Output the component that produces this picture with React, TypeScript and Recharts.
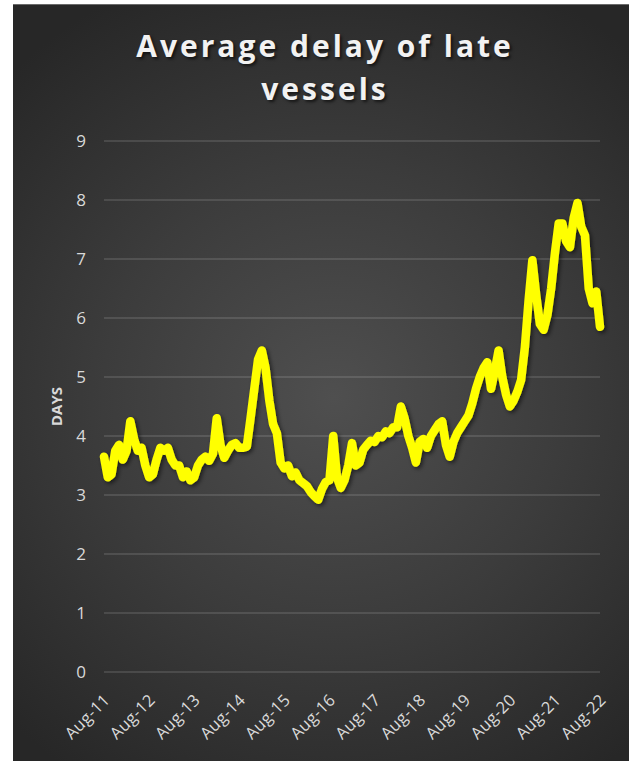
import { CartesianGrid, Line, LineChart, XAxis, YAxis } from "recharts";

const MONTHS = ["Jan", "Feb", "Mar", "Apr", "May", "Jun", "Jul", "Aug", "Sep", "Oct", "Nov", "Dec"];

// average delay (days), one array per year
const delay2011 = [3.65, 3.3, 3.35, 3.75, 3.85]; // Aug-Dec
const delay2012 = [3.6, 3.75, 4.25, 3.95, 3.75, 3.8, 3.5, 3.3, 3.35, 3.6, 3.8, 3.75];
const delay2013 = [3.8, 3.6, 3.5, 3.5, 3.3, 3.4, 3.25, 3.3, 3.5, 3.6, 3.65, 3.58];
const delay2014 = [3.7, 4.3, 3.85, 3.63, 3.75, 3.85, 3.88, 3.8, 3.8, 3.82, 4.3, 4.8];
const delay2015 = [5.3, 5.45, 5.15, 4.6, 4.2, 4.05, 3.55, 3.45, 3.5, 3.32, 3.38, 3.25];
const delay2016 = [3.2, 3.15, 3.05, 2.98, 2.92, 3.1, 3.22, 3.25, 4.0, 3.3, 3.12, 3.25];
const delay2017 = [3.5, 3.88, 3.5, 3.55, 3.77, 3.85, 3.92, 3.9, 4.0, 3.98, 4.08, 4.05];
const delay2018 = [4.15, 4.15, 4.5, 4.3, 4.0, 3.8, 3.55, 3.9, 3.95, 3.8, 4.0, 4.1];
const delay2019 = [4.2, 4.25, 3.85, 3.65, 3.9, 4.05, 4.15, 4.25, 4.35, 4.55, 4.8, 5.0];
const delay2020 = [5.15, 5.25, 4.8, 5.1, 5.45, 5.0, 4.7, 4.5, 4.6, 4.75, 4.95, 5.5];
const delay2021 = [6.3, 6.98, 6.4, 5.9, 5.8, 6.05, 6.5, 7.1, 7.6, 7.6, 7.3, 7.2];
const delay2022 = [7.7, 7.95, 7.55, 7.4, 6.5, 6.25, 6.45, 5.85]; // Jan-Aug

const yTicks = [0, 1, 2, 3, 4, 5, 6, 7, 8, 9];

const years = [
  { yy: "11", first: 7, values: delay2011 },
  { yy: "12", first: 0, values: delay2012 },
  { yy: "13", first: 0, values: delay2013 },
  { yy: "14", first: 0, values: delay2014 },
  { yy: "15", first: 0, values: delay2015 },
  { yy: "16", first: 0, values: delay2016 },
  { yy: "17", first: 0, values: delay2017 },
  { yy: "18", first: 0, values: delay2018 },
  { yy: "19", first: 0, values: delay2019 },
  { yy: "20", first: 0, values: delay2020 },
  { yy: "21", first: 0, values: delay2021 },
  { yy: "22", first: 0, values: delay2022 },
];

const data = years.flatMap(({ yy, first, values }) =>
  values.map((days, k) => ({ month: `${MONTHS[first + k]}-${yy}`, days }))
);

const FONT = "'Open Sans', sans-serif";
const LABEL = "#d9d9d9";

function MonthTick(props: any) {
  const { x, y, payload } = props;
  const ax = x + 7;
  const ay = y + 21;
  return (
    <text
      x={ax}
      y={ay}
      transform={`rotate(-45 ${ax} ${ay})`}
      textAnchor="end"
      fill={LABEL}
      fontSize={16.5}
      fontFamily={FONT}
      letterSpacing={0.3}
    >
      {payload.value}
    </text>
  );
}

export default function App() {
  return (
    <div
      style={{
        position: "absolute",
        left: 13,
        top: 4,
        width: 616,
        height: 757,
        overflow: "hidden",
        background: "radial-gradient(ellipse 75% 60% at 52% 52%, #4f4f4f 0%, #3c3c3c 50%, #272727 100%)",
        boxShadow: "inset 0 1px 0 #6a6a6a",
      }}
    >
      <LineChart width={616} height={757} data={data} margin={{ top: 137, right: 29, bottom: 29, left: 31 }}>
        <defs>
          <filter id="lineShadow" x="-10%" y="-10%" width="120%" height="120%">
            <feDropShadow dx="2" dy="2" stdDeviation="2" floodColor="#000" floodOpacity="0.55" />
          </filter>
        </defs>
        <CartesianGrid vertical={false} stroke="rgba(255,255,255,0.16)" strokeWidth={1.5} />
        <XAxis
          dataKey="month"
          interval={11}
          axisLine={false}
          tickLine={false}
          height={60}
          tick={<MonthTick />}
        />
        <YAxis
          domain={[0, 9]}
          ticks={yTicks}
          axisLine={false}
          tickLine={false}
          tickMargin={12}
          width={60}
          tick={{ fill: LABEL, fontSize: 17, fontFamily: FONT }}
          label={{
            value: "DAYS",
            angle: -90,
            position: "center",
            dx: -17,
            fill: LABEL,
            fontSize: 15,
            fontWeight: 700,
            fontFamily: FONT,
          }}
        />
        <Line
          type="linear"
          dataKey="days"
          stroke="#ffff00"
          strokeWidth={8.5}
          strokeLinejoin="round"
          strokeLinecap="round"
          dot={false}
          filter="url(#lineShadow)"
          isAnimationActive={false}
        />
      </LineChart>
      <div
        style={{
          position: "absolute",
          top: 20,
          left: 0,
          width: "100%",
          paddingLeft: 8,
          boxSizing: "border-box",
          textAlign: "center",
          color: "#f2f2f2",
          fontFamily: FONT,
          fontWeight: 700,
          fontSize: 30,
          lineHeight: "43px",
          letterSpacing: 3,
          textShadow: "2px 2px 3px rgba(0,0,0,0.6)",
        }}
      >
        Average delay of late
        <br />
        vessels
      </div>
    </div>
  );
}
